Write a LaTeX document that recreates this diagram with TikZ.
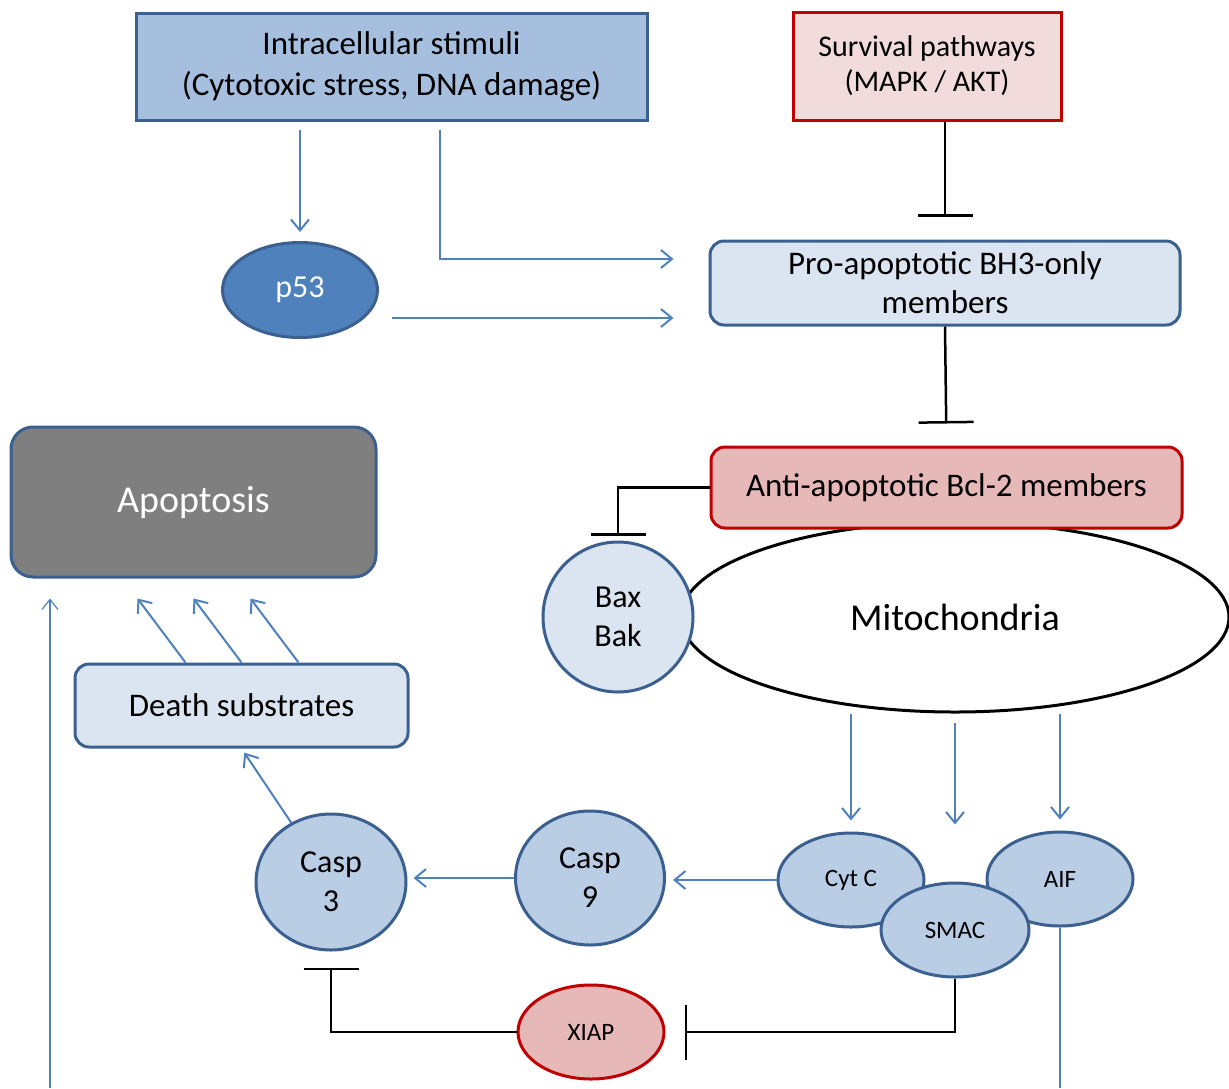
\documentclass[tikz,border=0pt]{standalone}
\usepackage{fontspec}
\setmainfont{Carlito}
\usetikzlibrary{arrows.meta,shapes.geometric}
\definecolor{edgeblue}{HTML}{3B5F8E}
\definecolor{arrowblue}{HTML}{4F81BD}
\definecolor{stimblue}{HTML}{A7BFDE}
\definecolor{paleblue}{HTML}{DBE5F1}
\definecolor{caspblue}{HTML}{B9CDE5}
\definecolor{darkred}{HTML}{C00000}
\definecolor{palepink}{HTML}{F2DCDB}
\definecolor{rosepink}{HTML}{E6B9B8}
\definecolor{apopgray}{HTML}{7F7F7F}
\begin{document}
\begin{tikzpicture}
[x=1pt, y=-1pt, line width=2pt,
sqbox/.style={rectangle, draw=edgeblue, line width=3pt, inner sep=0pt, align=center, font=\fontsize{33}{41}\selectfont},
rbox/.style={rectangle, rounded corners=14pt, draw=edgeblue, line width=3pt, inner sep=0pt, align=center, font=\fontsize{33}{39}\selectfont},
oval/.style={ellipse, draw=edgeblue, line width=3pt, inner sep=0pt, align=center, fill=caspblue, font=\fontsize{32}{39}\selectfont},
smalloval/.style={oval, minimum width=146, minimum height=94, font=\fontsize{25}{28}\selectfont},
arr/.style={draw=arrowblue, line width=2pt, -{Straight Barb[length=11pt, width=18pt]}},
thinarr/.style={draw=arrowblue, line width=1.2pt, -{Straight Barb[length=10pt, width=16pt]}},
inhib/.style={draw=black, line width=2.5pt, -{Bar[width=55pt]}}]

\useasboundingbox (0,0) rectangle (1229,1088);

\node[sqbox, fill=stimblue, minimum width=511, minimum height=107] (stimuli) at (391.5,66.5) {Intracellular stimuli\\(Cytotoxic stress, DNA damage)};
\node[sqbox, draw=darkred, fill=palepink, minimum width=268, minimum height=108, font=\fontsize{30}{35}\selectfont] (survival) at (927,66) {Survival pathways\\(MAPK / AKT)};

\node[oval, fill=arrowblue, text=white, minimum width=155, minimum height=95] (p53) at (300,290) {p53};
\node[rbox, fill=paleblue, minimum width=470, minimum height=84] (bh3) at (945,283) {Pro-apoptotic BH3-only\\members};

\node[ellipse, draw=black, fill=white, line width=3pt, minimum width=548, minimum height=190, font=\fontsize{38}{44}\selectfont] (mito) at (955,617) {Mitochondria};
\node[rbox, draw=darkred, fill=rosepink, minimum width=471, minimum height=81] (bcl2) at (946.5,487.5) {Anti-apoptotic Bcl-2 members};
\node[oval, fill=paleblue, minimum width=150, minimum height=150] (bax) at (618,617) {Bax\\Bak};

\node[rbox, fill=apopgray, text=white, rounded corners=22pt, minimum width=365, minimum height=150, font=\fontsize{38}{44}\selectfont] (apop) at (193.5,502) {Apoptosis};
\node[rbox, fill=paleblue, minimum width=333, minimum height=83] (death) at (241.5,705.5) {Death substrates};

\node[smalloval] (cytc) at (851,880) {Cyt C};
\node[smalloval] (aif) at (1060,879) {AIF};
\node[smalloval, minimum width=148] (smac) at (955,930) {SMAC};

\node[oval, minimum width=149, minimum height=134] (casp9) at (590,878) {Casp\\9};
\node[oval, minimum width=150, minimum height=136] (casp3) at (331,882) {Casp\\3};
\node[smalloval, draw=darkred, fill=rosepink] (xiap) at (591,1032) {XIAP};

\coordinate (bend) at (440,259);
\coordinate (p53out) at (392,318);
\coordinate (leftend) at (50,1088);
\coordinate (aifend) at (1060,1088);

\draw[arr, shorten <=8pt, shorten >=9pt] (stimuli.south -| p53.north) -- (p53.north);
\draw[arr, shorten <=8pt, shorten >=35pt] (stimuli.south -| bend) -- (bend) -- (bend -| bh3.west);
\draw[arr, shorten >=35pt] (p53out) -- (p53out -| bh3.west);

\draw[inhib, shorten >=23pt] (survival.south -| bh3.north) -- (bh3.north);
\draw[inhib, shorten >=22pt] (bh3.south) -- (bcl2.north);
\draw[inhib, shorten >=5pt] (bcl2.west) -| (bax.north);

\draw[arr, shorten >=11pt] (mito.south -| cytc.north) -- (cytc.north);
\draw[arr, shorten <=9pt, shorten >=57pt] (mito.south) -- (smac.north);
\draw[arr, shorten >=11pt] (mito.south -| aif.north) -- (aif.north);

\draw[arr, shorten >=7pt] (cytc.west) -- (cytc.west -| casp9.east);
\draw[arr, shorten >=6pt] (casp9.west) -- (casp9.west -| casp3.east);
\draw[arr, shorten >=5pt] (casp3) -- (death.south);
\foreach \dx in {-56,0,57}
  \draw[arr] ([xshift=\dx pt]death.north) -- ([xshift=\dx pt, yshift=-20pt]apop.south);

\draw[thinarr, shorten >=20pt] (leftend) -- (leftend |- apop.south);
\draw[arrowblue, line width=1.2pt] (aif.south) -- (aifend);

\draw[inhib, shorten >=19pt] (smac.south) |- (xiap.east);
\draw[inhib, shorten >=16pt] (xiap.west) -| (casp3.south);
\end{tikzpicture}
\end{document}
